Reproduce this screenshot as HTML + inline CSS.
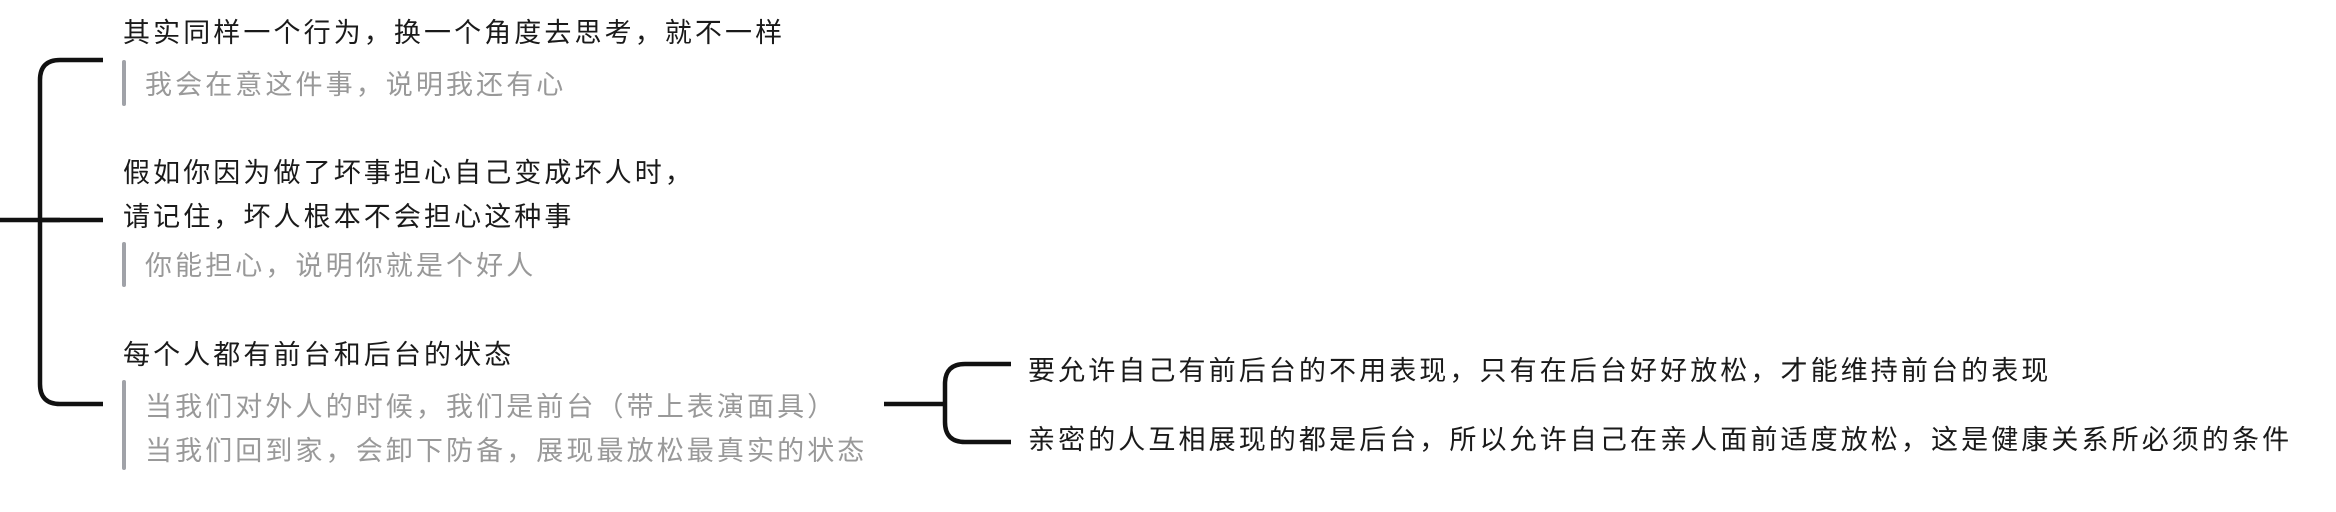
<!DOCTYPE html>
<html><head><meta charset="utf-8"><style>
html,body{margin:0;padding:0;background:#fff;}
body{width:2336px;height:512px;position:relative;overflow:hidden;font-family:"Liberation Sans","Noto Sans CJK SC",sans-serif;}
.t{position:absolute;white-space:nowrap;font-size:27px;line-height:40px;letter-spacing:3.1px;color:#1a1a1a;}
.g{color:#999;}
.r{letter-spacing:3.1px;}
.bar{position:absolute;width:4px;background:#a0a2a8;border-radius:2px;}
</style></head><body>
<svg width="2336" height="512" style="position:absolute;left:0;top:0">
<g fill="none" stroke="#111" stroke-width="4.5">
<path d="M0 220 H60"/>
<path d="M103 60 H60 Q40 60 40 80 V384 Q40 404 60 404 H103"/>
<path d="M40 220 H103"/>
<path d="M884 404 H945"/>
<path d="M1011 364 H965 Q945 364 945 384 V422 Q945 442 965 442 H1011"/>
</g>
</svg>
<div class="t" style="left:123px;top:13px">其实同样一个行为，换一个角度去思考，就不一样</div>
<div class="bar" style="left:122px;top:60px;height:46px"></div>
<div class="t g" style="left:145px;top:65px">我会在意这件事，说明我还有心</div>
<div class="t" style="left:123px;top:153px">假如你因为做了坏事担心自己变成坏人时，</div>
<div class="t" style="left:123px;top:197px">请记住，坏人根本不会担心这种事</div>
<div class="bar" style="left:122px;top:242px;height:45px"></div>
<div class="t g" style="left:145px;top:246px">你能担心，说明你就是个好人</div>
<div class="t" style="left:123px;top:335px">每个人都有前台和后台的状态</div>
<div class="bar" style="left:122px;top:380px;height:90px"></div>
<div class="t g" style="left:145px;top:387px">当我们对外人的时候，我们是前台（带上表演面具）</div>
<div class="t g" style="left:145px;top:431px">当我们回到家，会卸下防备，展现最放松最真实的状态</div>
<div class="t r" style="left:1028px;top:351px">要允许自己有前后台的不用表现，只有在后台好好放松，才能维持前台的表现</div>
<div class="t r" style="left:1028px;top:420px">亲密的人互相展现的都是后台，所以允许自己在亲人面前适度放松，这是健康关系所必须的条件</div>
</body></html>
